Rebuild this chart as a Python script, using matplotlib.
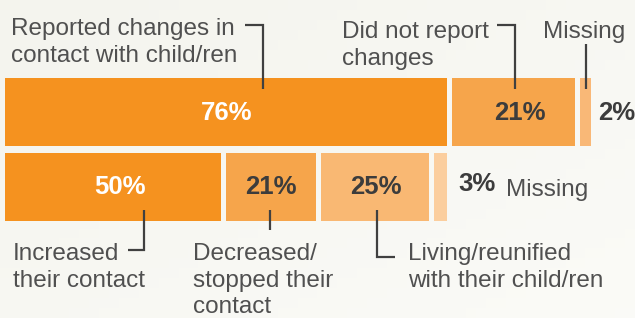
import numpy as np
import matplotlib.pyplot as plt

# data
top_labels = ["Reported changes in\ncontact with child/ren", "Did not report\nchanges", "Missing"]
top_values = [76, 21, 2]
bottom_labels = ["Increased\ntheir contact", "Decreased/\nstopped their\ncontact",
                 "Living/reunified\nwith their child/ren", "Missing"]
bottom_values = [50, 21, 25, 3]

top_colors = ["#F5921F", "#F6A54B", "#F9B877"]
bottom_colors = ["#F5921F", "#F6A54B", "#F9B873", "#FBCE9E"]

W, H = 635, 318
fig = plt.figure(figsize=(W / 100, H / 100), dpi=100)
ax = fig.add_axes([0, 0, 1, 1])
ax.set_xlim(0, W)
ax.set_ylim(H, 0)
ax.axis('off')

# background gradient
gx, gy = np.meshgrid(np.linspace(0, 1, 64), np.linspace(0, 1, 32))
g = (gx + gy) / 2
c0 = np.array([0.957, 0.957, 0.933])
c1 = np.array([0.984, 0.984, 0.969])
bg = c0 + (c1 - c0) * g[..., None]
ax.imshow(bg, extent=[0, W, H, 0], aspect='auto', zorder=0)

font = 'Liberation Sans'
txt = '#505050'
dark = '#3c3c3c'
gap = 5
x0 = 5
top_scale = 5.82

# top bar
top_w = [v * top_scale for v in top_values]
top_left = [x0 + sum(top_w[:i]) + i * gap for i in range(len(top_w))]
ax.barh(112, top_w, left=top_left, height=68, color=top_colors, zorder=2)

# bottom bar splits the first top segment
bot_scale = (top_w[0] - gap * (len(bottom_values) - 1)) / sum(bottom_values)
bot_w = [v * bot_scale for v in bottom_values]
bot_left = [x0 + sum(bot_w[:i]) + i * gap for i in range(len(bot_w))]
ax.barh(187, bot_w, left=bot_left, height=68, color=bottom_colors, zorder=2)

# percent labels
pct = dict(fontsize=18.5, fontweight='bold', family=font, va='center', ha='center', zorder=4)
ax.text(top_left[0] + top_w[0] / 2, 113, f"{top_values[0]}%", color='white', **pct)
ax.text(top_left[1] + top_w[1] / 2 + 6, 113, f"{top_values[1]}%", color=dark, **pct)
ax.text(598, 113, f"{top_values[2]}%", color=dark, **{**pct, 'ha': 'left'})
ax.text(bot_left[0] + bot_w[0] / 2 + 7, 187, f"{bottom_values[0]}%", color='white', **pct)
ax.text(bot_left[1] + bot_w[1] / 2, 187, f"{bottom_values[1]}%", color=dark, **pct)
ax.text(bot_left[2] + bot_w[2] / 2, 187, f"{bottom_values[2]}%", color=dark, **pct)
ax.text(458, 184, f"{bottom_values[3]}%", color=dark, **{**pct, 'ha': 'left'})

# category labels
lab = dict(fontsize=17.5, family=font, color=txt, va='top', ha='left', linespacing=1.27, zorder=4)
ax.text(11, 18, top_labels[0], **lab)
ax.text(342, 21, top_labels[1], **lab)
ax.text(543, 21, top_labels[2], **lab)
ax.text(13, 243, bottom_labels[0], **lab)
ax.text(193, 243, bottom_labels[1], **lab)
ax.text(408, 243, bottom_labels[2], **lab)
ax.text(506, 190, bottom_labels[3], **{**lab, 'va': 'center'})

# leader lines
ld = dict(color='#404040', lw=1.6, zorder=5, solid_capstyle='butt', solid_joinstyle='miter')
ax.plot([245, 263, 263], [25, 25, 89], **ld)
ax.plot([497, 515, 515], [25, 25, 89], **ld)
ax.plot([586, 586], [44, 89], **ld)
ax.plot([144, 144, 128], [210, 250, 250], **ld)
ax.plot([270, 270], [210, 230], **ld)
ax.plot([377, 377, 395], [210, 257, 257], **ld)

fig.savefig('out.png', dpi=100)
